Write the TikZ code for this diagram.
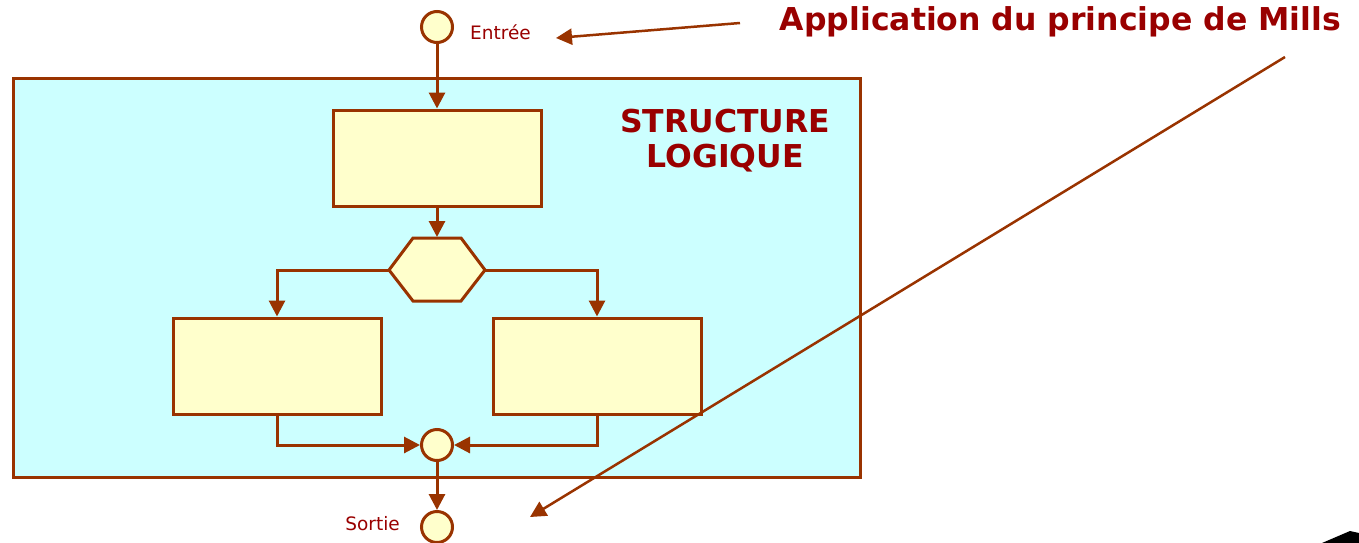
\documentclass[tikz,border=0pt]{standalone}
\usepackage{fontspec}
\setmainfont{DejaVu Sans}
\usetikzlibrary{arrows.meta,shapes.geometric}
\definecolor{brn}{HTML}{993300}
\definecolor{ylw}{HTML}{FFFFCC}
\definecolor{cyn}{HTML}{CCFFFF}
\definecolor{dred}{HTML}{990000}
\tikzset{
  conn/.style={draw=brn,line width=3pt,-{Triangle[length=16pt,width=16pt]}},
  box/.style={draw=brn,fill=ylw,line width=3pt},
  dot/.style={circle,draw=brn,fill=ylw,line width=3pt,minimum size=31pt,inner sep=0pt},
  lbl/.style={text=dred,font=\fontsize{18.5}{22}\selectfont,inner sep=0pt},
  big/.style={text=dred,font=\bfseries\fontsize{31.5}{35}\selectfont,inner sep=0pt,align=center}
}
\begin{document}
\begin{tikzpicture}[x=1pt,y=-1pt]
\useasboundingbox (0,0) rectangle (1359,543);
% structure frame
\draw[draw=brn,fill=cyn,line width=3pt] (13,78) rectangle (860,477);
\node[big] (title2) at (725,141) {STRUCTURE\\LOGIQUE};
% nodes
\node[dot] (in) at (437,27) {};
\node[lbl,anchor=west] (entree) at (470,32) {Entrée};
\node[box,minimum width=208pt,minimum height=96pt] (r1) at (437,158) {};
\draw[box] (389,270) -- (413,238) -- (461,238) -- (485,270) -- (461,301) -- (413,301) -- cycle;
\coordinate (hl) at (389,270);
\coordinate (hr) at (485,270);
\coordinate (ht) at (437,237);
\node[box,minimum width=208pt,minimum height=96pt] (rl) at (277,366) {};
\node[box,minimum width=208pt,minimum height=96pt] (rr) at (597,366) {};
\node[dot] (join) at (437,445) {};
\node[dot] (out) at (437,527) {};
\node[lbl,anchor=east] (sortie) at (400,524) {Sortie};
% connectors
\draw[conn] (in.south) -- (r1.north);
\draw[conn] (r1.south) -- (ht);
\draw[conn] (hl) -| (rl.north);
\draw[conn] (hr) -| (rr.north);
\draw[conn] (rl.south) |- (join.west);
\draw[conn] (rr.south) |- (join.east);
\draw[conn] (join.south) -- (out.north);
% title and pointers
\node[big,anchor=east] (title) at (1341,22) {Application du principe de Mills};
\coordinate (a1s) at (740,23);
\coordinate (a1e) at (556,38);
\draw[conn,line width=2.5pt] (a1s) -- (a1e);
\coordinate (a2s) at (1285,57);
\coordinate (a2e) at (530,517);
\draw[conn,line width=2.5pt] (a2s) -- (a2e);
% clipped black shape at bottom right
\fill[black] (1322,543) -- (1350,531) -- (1359,533) -- (1359,543) -- cycle;
\end{tikzpicture}
\end{document}
